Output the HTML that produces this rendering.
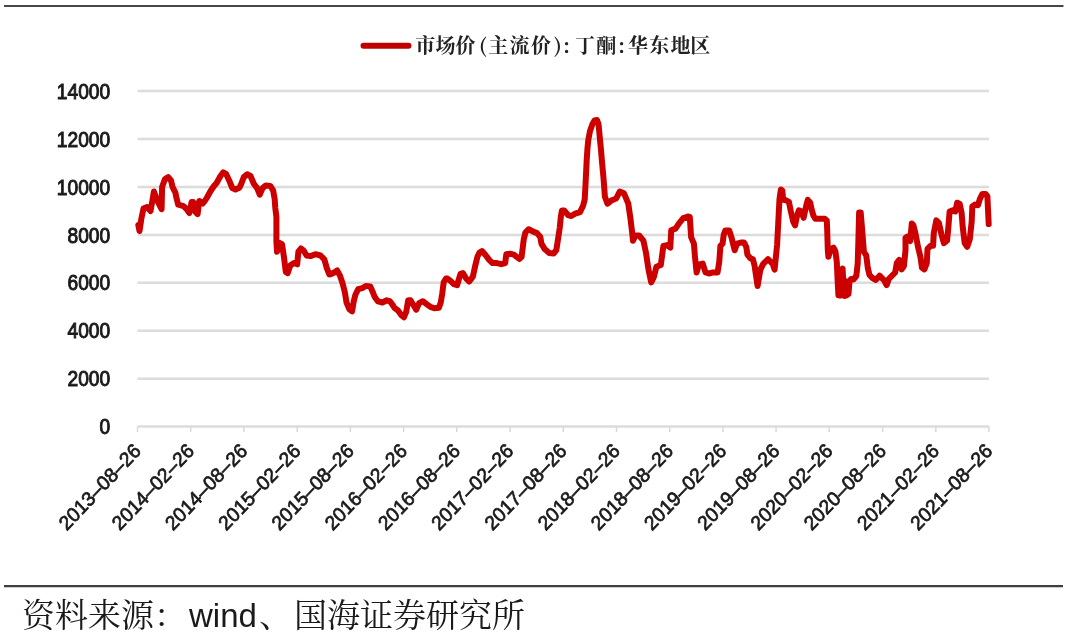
<!DOCTYPE html>
<html><head><meta charset="utf-8">
<style>
html,body{margin:0;padding:0;background:#fff;}
body{width:1080px;height:634px;overflow:hidden;position:relative;}
svg{position:absolute;left:0;top:0;}
.g{stroke:#dcdcdc;stroke-width:2.5;}
.t{stroke:#d9d9d9;stroke-width:1.5;}
.yl{font-family:"Liberation Sans",Arial,sans-serif;font-size:20px;fill:#1a1a1a;stroke:#1a1a1a;stroke-width:0.9;text-anchor:end;}
.xl{font-family:"Liberation Sans",Arial,sans-serif;font-size:19.2px;fill:#1a1a1a;stroke:#1a1a1a;stroke-width:0.7;text-anchor:end;}
.lg{font-family:"Noto Serif CJK SC",serif;font-size:20px;font-weight:700;fill:#222;text-anchor:middle;}
.ft{position:absolute;left:22px;top:595.5px;font-family:"Liberation Serif","Noto Serif CJK SC",serif;font-size:33px;color:#1a1a1a;white-space:nowrap;line-height:40px;}
.ft .w{font-family:"Liberation Sans",Arial,sans-serif;font-weight:400;}
</style></head><body>
<svg width="1080" height="634" viewBox="0 0 1080 634">
<line x1="4" y1="6" x2="1063.5" y2="6" stroke="#484848" stroke-width="2.1"/>
<line x1="363.5" y1="45.8" x2="408.5" y2="45.8" stroke="#c00000" stroke-width="6" stroke-linecap="round"/>
<text x="425.2 445.5 465.6 483 498.2 519.6 541.1 557.8 566.5 585 606.2 621.6 638.1 659.3 680.6 700.3" y="53" class="lg">市场价(主流价):丁酮:华东地区</text>
<line x1="137.5" y1="378.7" x2="989.0" y2="378.7" class="g"/>
<line x1="137.5" y1="330.7" x2="989.0" y2="330.7" class="g"/>
<line x1="137.5" y1="282.8" x2="989.0" y2="282.8" class="g"/>
<line x1="137.5" y1="234.9" x2="989.0" y2="234.9" class="g"/>
<line x1="137.5" y1="187.0" x2="989.0" y2="187.0" class="g"/>
<line x1="137.5" y1="139.0" x2="989.0" y2="139.0" class="g"/>
<line x1="137.5" y1="91.1" x2="989.0" y2="91.1" class="g"/>
<line x1="137.5" y1="426.6" x2="989.0" y2="426.6" class="g"/>
<line x1="137.5" y1="426.6" x2="137.5" y2="432.1" class="t"/>
<line x1="190.7" y1="426.6" x2="190.7" y2="432.1" class="t"/>
<line x1="243.9" y1="426.6" x2="243.9" y2="432.1" class="t"/>
<line x1="297.2" y1="426.6" x2="297.2" y2="432.1" class="t"/>
<line x1="350.4" y1="426.6" x2="350.4" y2="432.1" class="t"/>
<line x1="403.6" y1="426.6" x2="403.6" y2="432.1" class="t"/>
<line x1="456.8" y1="426.6" x2="456.8" y2="432.1" class="t"/>
<line x1="510.0" y1="426.6" x2="510.0" y2="432.1" class="t"/>
<line x1="563.2" y1="426.6" x2="563.2" y2="432.1" class="t"/>
<line x1="616.5" y1="426.6" x2="616.5" y2="432.1" class="t"/>
<line x1="669.7" y1="426.6" x2="669.7" y2="432.1" class="t"/>
<line x1="722.9" y1="426.6" x2="722.9" y2="432.1" class="t"/>
<line x1="776.1" y1="426.6" x2="776.1" y2="432.1" class="t"/>
<line x1="829.3" y1="426.6" x2="829.3" y2="432.1" class="t"/>
<line x1="882.6" y1="426.6" x2="882.6" y2="432.1" class="t"/>
<line x1="935.8" y1="426.6" x2="935.8" y2="432.1" class="t"/>
<line x1="989.0" y1="426.6" x2="989.0" y2="432.1" class="t"/>
<text transform="translate(110.2,434.2) scale(0.96,1.1)" class="yl">0</text>
<text transform="translate(110.2,386.3) scale(0.96,1.1)" class="yl">2000</text>
<text transform="translate(110.2,338.3) scale(0.96,1.1)" class="yl">4000</text>
<text transform="translate(110.2,290.4) scale(0.96,1.1)" class="yl">6000</text>
<text transform="translate(110.2,242.5) scale(0.96,1.1)" class="yl">8000</text>
<text transform="translate(110.2,194.6) scale(0.96,1.1)" class="yl">10000</text>
<text transform="translate(110.2,146.6) scale(0.96,1.1)" class="yl">12000</text>
<text transform="translate(110.2,98.7) scale(0.96,1.1)" class="yl">14000</text>
<text transform="translate(142.1,452.2) scale(1,1.05) rotate(-45)" class="xl">2013&#8211;08&#8211;26</text>
<text transform="translate(195.3,452.2) scale(1,1.05) rotate(-45)" class="xl">2014&#8211;02&#8211;26</text>
<text transform="translate(248.5,452.2) scale(1,1.05) rotate(-45)" class="xl">2014&#8211;08&#8211;26</text>
<text transform="translate(301.8,452.2) scale(1,1.05) rotate(-45)" class="xl">2015&#8211;02&#8211;26</text>
<text transform="translate(355.0,452.2) scale(1,1.05) rotate(-45)" class="xl">2015&#8211;08&#8211;26</text>
<text transform="translate(408.2,452.2) scale(1,1.05) rotate(-45)" class="xl">2016&#8211;02&#8211;26</text>
<text transform="translate(461.4,452.2) scale(1,1.05) rotate(-45)" class="xl">2016&#8211;08&#8211;26</text>
<text transform="translate(514.6,452.2) scale(1,1.05) rotate(-45)" class="xl">2017&#8211;02&#8211;26</text>
<text transform="translate(567.9,452.2) scale(1,1.05) rotate(-45)" class="xl">2017&#8211;08&#8211;26</text>
<text transform="translate(621.1,452.2) scale(1,1.05) rotate(-45)" class="xl">2018&#8211;02&#8211;26</text>
<text transform="translate(674.3,452.2) scale(1,1.05) rotate(-45)" class="xl">2018&#8211;08&#8211;26</text>
<text transform="translate(727.5,452.2) scale(1,1.05) rotate(-45)" class="xl">2019&#8211;02&#8211;26</text>
<text transform="translate(780.7,452.2) scale(1,1.05) rotate(-45)" class="xl">2019&#8211;08&#8211;26</text>
<text transform="translate(833.9,452.2) scale(1,1.05) rotate(-45)" class="xl">2020&#8211;02&#8211;26</text>
<text transform="translate(887.2,452.2) scale(1,1.05) rotate(-45)" class="xl">2020&#8211;08&#8211;26</text>
<text transform="translate(940.4,452.2) scale(1,1.05) rotate(-45)" class="xl">2021&#8211;02&#8211;26</text>
<text transform="translate(993.6,452.2) scale(1,1.05) rotate(-45)" class="xl">2021&#8211;08&#8211;26</text>

<polyline points="138.3,225 139.5,231 141.3,219 143.5,208.5 147,207 150.5,211 152.5,200 153.9,191.5 157.7,201.4 161.6,209.2 162.1,187.1 164.9,179.3 168.2,177.1 171,180.5 172.6,187.1 175.4,192.6 176.5,198.1 178.2,204.7 182.6,205.8 183.8,206.4 187.1,209.7 189.4,213 191.6,202 193.2,202 195.4,211.9 197.6,214.1 199.3,200.9 202.6,203.5 204.8,201 207,197.5 210.3,191.5 213.6,186.5 216.6,183 220.5,176 223.3,172.3 226,173.8 229.2,180.5 232.3,188 235.5,189.5 239.4,187.8 241.2,184 243.8,177.1 247.1,174.3 250.5,176 253.8,183.7 257.1,188.1 259.8,194.7 262.6,188.1 265.9,185.4 270.3,185.9 273.1,190.3 274.7,199.2 275.3,208 276.4,216.8 276.4,241.6 277,251.7 279.5,242.9 282,244.1 283.9,256.7 285.8,271.9 287.7,273.1 290.2,265.6 294,263 297.2,264.3 298.4,251.7 300.9,248.5 303.5,250.4 306.6,255.5 310.4,256.1 315.4,254.2 320.5,255.5 324.3,259.3 326.8,268.1 329.3,274.4 330.5,274.3 333.8,272.7 337.1,270.5 339.9,275.4 342.7,283.7 344.9,292.5 346.5,302.5 349.3,309.1 352.1,311.3 353.7,301.4 355.4,294.7 358.1,289.2 362.5,288.1 365.9,285.9 370.3,286.5 372.5,291.4 374.7,297 378,301.4 382.4,302.5 386.8,300.3 390.1,301.4 392,304 394.5,307.8 398.2,310.7 401.6,315.4 403.9,317.3 406.3,311.6 408.2,300.3 410.5,300.3 413.4,305 416.2,309.7 419.1,303.1 422.8,301.2 426.6,304.1 430.4,306.9 434.2,308.3 438.9,307.8 440.8,302.2 442.2,293.7 443.7,282.3 446,278.5 447.5,278.6 450.5,280.8 453.8,284.1 457.1,285.2 460.5,273.8 462.9,273 466,278.3 469.3,281.5 472.8,276.8 475.3,265.5 477.5,256.5 479.5,252.5 482,251 485.5,255 489.2,259.8 492.5,263.1 496.9,263.1 501.3,264.2 505.2,263.1 506.3,254.3 510.1,253.7 513.8,254.6 519.4,259 521.6,256.8 523.8,239.2 525.4,232.5 528.7,229.2 532.6,231.4 537,233.1 540.3,237 541.4,243.6 544.7,249.1 549.2,253 553.6,253.5 556.3,250.2 558,239.2 559.7,228.1 560.8,217.1 561.9,210.5 564.2,210.5 568.1,215.2 571.3,216 575.2,213.7 580,212.1 583.1,205.8 584.7,199.5 585.5,185 586.7,160 587.5,148 588.3,140 590,131 592.5,124 594.5,120.5 597,120 598.5,124 599.2,131 600,140 601,150 602,162 603.5,178 604.9,196.8 607.5,203.7 611.9,200.2 616.2,198.5 619.7,191.6 624,193.3 628.3,203.7 630.4,218.2 632.1,232.1 633,240.7 635.6,235.5 639.1,235.5 643.4,240.7 646,252.9 648.6,270.2 651.2,282.4 653.8,277.2 656.4,266.8 660.8,265 663.4,245.9 666.9,245.1 670.3,247.7 671.2,230.3 675.5,228.6 679,223.4 683.3,218.2 688.5,216.4 689.8,217 691.1,237.1 693.9,243.7 695,257 696.6,272.4 698.8,264.7 702.7,263.6 705.5,272.4 708.8,273.5 713.2,272.4 717.6,272.4 719.3,261.4 720.4,245.9 722.6,243.7 723.7,234.9 725.3,230.5 729.2,230.5 731.4,237.1 733.6,245.9 734.7,250.3 736.9,243.7 740.8,242.6 744.1,242.6 746.3,247 747.4,254.7 750.2,258.1 752.9,259.2 754.6,265.8 756.2,276.8 757.6,286 760.4,269.6 763.2,263.9 768,259.2 772.7,263.9 774.6,269.6 777.1,245 778.5,217.8 779.5,198.9 780.9,189.5 782.3,190.4 783.2,199.9 786.1,200.3 788.9,201.8 790.8,211.2 793.2,221.6 795.1,225.4 797,216 798.9,210.3 801.2,211.2 803.6,217.8 806,206.5 807.8,199.9 810.2,202.7 811.6,209.3 813.5,215.9 815.4,218.8 820.1,218.8 824.9,218.8 826.8,220.7 827.2,230.1 827.8,250 828.4,256.8 830.8,248.9 833.5,247.6 835.4,251.4 836.8,262 837.6,280 838.4,295 839.3,276 840.2,295.5 841.2,273 842.6,268.5 843.6,290 844.6,296 845.5,281 846.5,295.5 847.5,285 848.5,294 849.5,281 851.2,279 853.4,279.5 856.3,276 857.7,263.7 858.4,240 859.1,212.6 860.7,212.6 862.3,231.5 863.9,252 866.2,255.2 867.8,268 869.5,275 872.3,277.9 875.7,280 879.6,275.7 884.2,280.4 886.6,285.1 888.9,278.8 892.1,275.7 895.2,272.5 896.8,263.1 899.2,259.9 901.5,269.4 903.9,266.2 905.5,250.4 905.5,237.8 907.8,236.3 910.2,241 911.8,223.6 913.4,225.2 915.7,234.7 918.1,247.3 920.4,256.8 922,267.8 924.4,269.4 926.8,263.1 927.5,248.9 930.7,245.7 933.1,245.7 933.8,233 936.3,220.4 938.9,222.9 941.4,234.2 943.9,243.1 947.1,240.5 948.3,227.9 949.6,211.5 952.7,210.3 955.3,211.5 957.2,202.7 959.7,204 961.6,212.8 962.8,227.9 964.7,243.1 967.2,246.8 969.8,239.3 971.7,221.6 972.3,206.5 974.8,204.6 978,205.2 979.9,198.9 982.4,193.9 985.5,193.9 987.4,196.4 988.1,211.5 988.7,224.1" fill="none" stroke="#cc0000" stroke-width="6" stroke-linejoin="round" stroke-linecap="round"/>
<line x1="4" y1="586.2" x2="1063" y2="586.2" stroke="#3e3e3e" stroke-width="2.3"/>
</svg>
<div class="ft">资料来源：<span class="w" style="margin-left:2px">wind</span><span style="margin-left:2px;margin-right:2px">、</span>国海证券研究所</div>
</body></html>
